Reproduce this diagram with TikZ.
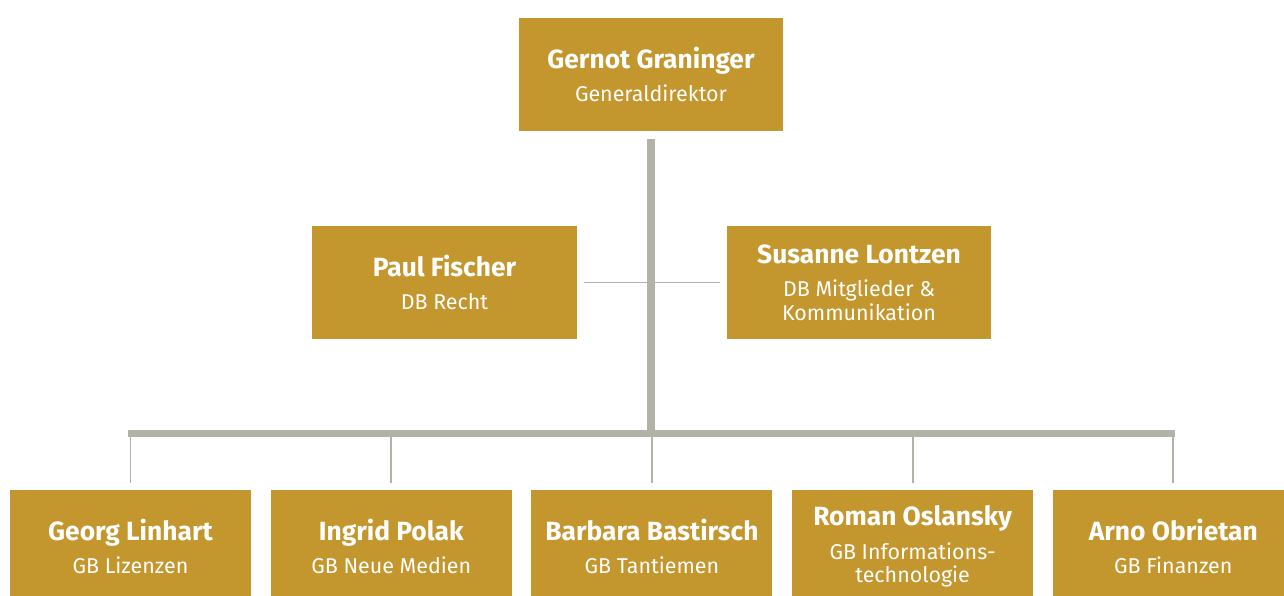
\documentclass[tikz,border=0pt]{standalone}
\usepackage{fontspec}
\setmainfont{Fira Sans}
\usetikzlibrary{positioning}

\definecolor{gold}{RGB}{196,151,46}
\definecolor{rule}{RGB}{179,178,166}

\newcommand{\unitname}[1]{{\fontsize{15}{17}\bfseries\selectfont #1}}

\begin{document}
\begin{tikzpicture}[
  x=0.2mm, y=-0.2mm,
  unit/.style={fill=gold, text=white, minimum width=52.8mm,
    minimum height=22.6mm, align=center, inner sep=0pt,
    font=\fontsize{12.2}{13.4}\selectfont},
  small/.style={unit, minimum width=48.2mm},
  trunk/.style={draw=rule, line width=4.5pt},
  twig/.style={draw=rule, line width=1.1pt}
]
  \useasboundingbox (0,0) rectangle (1284,595);
  \clip (0,0) rectangle (1284,595);

  \node[unit] (gd) at (651,74.5)
    {\unitname{Gernot Graninger}\\[5.5pt]Generaldirektor};
  \node[unit] (recht) at (444.5,282.5)
    {\unitname{Paul Fischer}\\[5.5pt]DB Recht};
  \node[unit] (mitglieder) at (859,282.5)
    {\unitname{Susanne Lontzen}\\[5.5pt]DB Mitglieder \&\\Kommunikation};

  \node[small] (lizenzen) at (130.5,546.5)
    {\unitname{Georg Linhart}\\[5.5pt]GB Lizenzen};
  \node[small, right=3.8mm of lizenzen] (medien)
    {\unitname{Ingrid Polak}\\[5.5pt]GB Neue Medien};
  \node[small, right=3.8mm of medien] (tantiemen)
    {\unitname{Barbara Bastirsch}\\[5.5pt]GB Tantiemen};
  \node[small, right=3.8mm of tantiemen] (it)
    {\unitname{Roman Oslansky}\\[5.5pt]GB Informations-\\technologie};
  \node[small, right=3.8mm of it] (finanzen)
    {\unitname{Arno Obrietan}\\[5.5pt]GB Finanzen};

  \coordinate (barL) at (128,433.5);
  \coordinate (barR) at (1175,433.5);

  % staff units
  \draw[twig, shorten <=4pt, shorten >=4pt] (recht.east) -- (mitglieder.west);
  % divisions
  \foreach \n in {lizenzen,medien,tantiemen,it,finanzen}
    \draw[twig, shorten >=4pt] (\n.north |- barL) -- (\n.north);
  \draw[trunk, line width=4pt] (barL) -- (barR);
  \draw[trunk, shorten <=4.6pt, shorten >=-2pt] (gd.south) -- (gd.south |- barL);
\end{tikzpicture}
\end{document}
